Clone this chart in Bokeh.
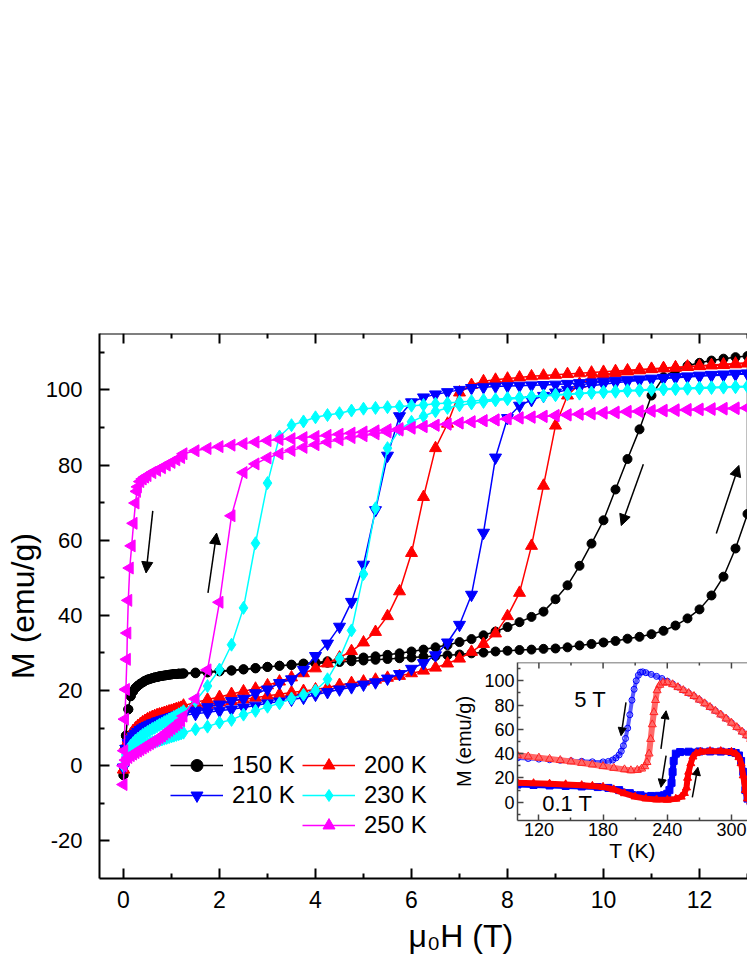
import numpy as np
from bokeh.plotting import figure
from bokeh.models import (Range1d, Legend, LegendItem, Arrow, NormalHead,
                          FixedTicker, GridBox, Label, Title, Span)
from bokeh.embed import file_html
from bokeh.resources import INLINE

FONT = "Liberation Sans"

# ---------------- main panel data: M (emu/g) vs mu0H (T) ----------------
H_LOW = [0.0, 0.05, 0.1, 0.15, 0.2, 0.25, 0.3, 0.35, 0.4, 0.45, 0.5, 0.55, 0.6,
         0.65, 0.7, 0.75, 0.8, 0.85, 0.9, 0.95, 1.0, 1.05, 1.1, 1.15, 1.2]
H_HI = [1.25, 1.5, 1.75, 2.0, 2.25, 2.5, 2.75, 3.0, 3.25, 3.5, 3.75, 4.0, 4.25,
        4.5, 4.75, 5.0, 5.25, 5.5, 5.75, 6.0, 6.25, 6.5, 6.75, 7.0, 7.25, 7.5,
        7.75, 8.0, 8.25, 8.5, 8.75, 9.0, 9.25, 9.5, 9.75, 10.0, 10.25, 10.5,
        10.75, 11.0, 11.25, 11.5, 11.75, 12.0, 12.25, 12.5, 12.75, 13.0]

# 150 K
M150_LOW = [-2.5, 8.0, 15.0, 18.5, 19.8, 20.7, 21.3, 21.8, 22.2, 22.6, 22.9, 23.1,
            23.3, 23.5, 23.6, 23.8, 23.9, 24.0, 24.1, 24.2, 24.3, 24.4, 24.4, 24.5, 24.5]
M150_UP = [24.5, 24.6, 24.8, 25.1, 25.3, 25.6, 25.9, 26.3, 26.6, 26.8, 27.0, 27.2,
           27.4, 27.6, 27.8, 28.0, 28.2, 28.4, 28.6, 28.8, 29.0, 29.2, 29.4, 29.6,
           29.9, 30.1, 30.4, 30.6, 30.8, 30.9, 31.1, 31.2, 31.5, 32.0, 32.4, 32.8,
           33.2, 33.8, 34.3, 35.0, 35.9, 37.3, 39.2, 41.6, 45.3, 50.3, 57.8, 67.0]
M150_DOWN = [109.0, 108.7, 108.3, 107.8, 107.2, 106.4, 105.3, 103.4, 98.5, 89.5,
             81.6, 73.5, 65.3, 59.1, 53.2, 48.0, 44.3, 41.0, 39.6, 38.2, 36.9, 35.7,
             34.7, 33.7, 32.9, 32.1, 31.5, 30.9, 30.4, 29.9, 29.5, 29.1, 28.8, 28.5,
             28.2, 27.8, 27.5, 27.2, 26.9, 26.6, 26.3, 26.0, 25.7, 25.4, 25.2, 25.0,
             24.8, 24.6]
# 200 K
M200_LOW = [-1.0, 5.5, 7.2, 8.3, 9.2, 9.9, 10.5, 11.0, 11.5, 11.9, 12.3, 12.6, 12.9,
            13.2, 13.4, 13.6, 13.8, 14.0, 14.2, 14.4, 14.6, 14.8, 15.0, 15.2, 15.4]
M200_UP = [15.0, 15.6, 16.2, 16.8, 17.2, 17.6, 18.1, 18.6, 19.0, 19.5, 19.9, 20.3,
           20.8, 21.5, 22.0, 22.4, 22.9, 23.4, 23.9, 24.6, 25.3, 26.1, 27.2, 28.5,
           30.3, 32.4, 35.2, 39.8, 46.0, 58.5, 74.5, 90.5, 98.5, 101.6, 103.1, 104.0,
           104.5, 104.9, 105.2, 105.5, 105.7, 105.9, 106.1, 106.3, 106.5, 106.6, 106.8, 107.0]
M200_DOWN = [107.2, 107.0, 106.8, 106.6, 106.4, 106.2, 106.0, 105.8, 105.6, 105.4,
             105.2, 105.0, 104.8, 104.6, 104.4, 104.2, 104.0, 103.8, 103.6, 103.3,
             103.0, 102.7, 102.3, 101.3, 99.3, 91.0, 84.5, 71.5, 56.6, 46.4, 39.8,
             35.6, 32.8, 30.5, 28.8, 27.2, 25.9, 24.6, 23.5, 22.4, 21.4, 20.5, 19.8,
             19.1, 18.3, 17.6, 16.8, 16.0]
# 210 K
M210_LOW = [-0.5, 4.5, 6.0, 7.0, 7.8, 8.5, 9.0, 9.5, 9.9, 10.3, 10.6, 10.9, 11.2,
            11.4, 11.7, 11.9, 12.1, 12.3, 12.5, 12.7, 12.9, 13.1, 13.3, 13.5, 13.6]
M210_UP = [13.4, 13.8, 14.2, 14.6, 15.0, 15.5, 16.0, 16.6, 17.1, 17.6, 18.1, 18.9,
           19.6, 20.3, 20.9, 21.6, 22.2, 23.2, 24.4, 25.8, 27.3, 29.4, 32.8, 37.5,
           45.5, 62.0, 82.0, 92.5, 95.8, 97.3, 98.4, 99.3, 100.0, 100.6, 101.1, 101.5,
           101.9, 102.2, 102.5, 102.8, 103.0, 103.2, 103.4, 103.6, 103.8, 103.9, 104.1, 104.2]
M210_DOWN = [104.4, 104.3, 104.1, 104.0, 103.8, 103.6, 103.4, 103.2, 103.0, 102.8,
             102.6, 102.4, 102.2, 102.0, 101.8, 101.6, 101.4, 101.3, 101.2, 101.1,
             101.0, 100.9, 100.7, 100.5, 100.0, 99.4, 98.8, 98.0, 96.7, 93.0, 82.5,
             68.0, 53.5, 43.6, 37.0, 32.5, 29.2, 25.5, 23.0, 22.0, 20.3, 19.3, 17.8,
             17.2, 16.3, 15.6, 14.7, 14.1]
# 230 K
M230_LOW = [0.0, 2.5, 3.3, 3.8, 4.2, 4.5, 4.8, 5.1, 5.4, 5.6, 5.8, 6.0, 6.2, 6.4,
            6.6, 6.8, 7.0, 7.2, 7.4, 7.6, 7.8, 8.0, 8.2, 8.4, 8.6]
M230_UP = [8.8, 9.7, 10.4, 11.5, 12.2, 13.6, 14.6, 15.7, 16.6, 17.9, 18.9, 20.0,
           23.0, 28.5, 36.0, 51.0, 68.5, 84.5, 89.5, 91.5, 93.0, 94.3, 95.2, 95.9,
           96.4, 96.8, 97.2, 97.5, 97.8, 98.1, 98.4, 98.6, 98.8, 99.0, 99.2, 99.4,
           99.5, 99.7, 99.8, 100.0, 100.1, 100.2, 100.3, 100.4, 100.5, 100.6, 100.7, 100.8]
M230_DOWN = [101.0, 100.9, 100.8, 100.7, 100.6, 100.5, 100.4, 100.3, 100.2, 100.0,
             99.9, 99.7, 99.5, 99.3, 99.1, 98.9, 98.7, 98.5, 98.3, 98.0, 97.8, 97.5,
             97.3, 97.0, 96.8, 96.5, 96.3, 96.0, 95.8, 95.6, 95.4, 95.2, 95.0, 94.5,
             93.8, 93.3, 92.7, 91.6, 90.6, 87.6, 75.2, 59.2, 42.0, 32.2, 25.6, 21.2,
             17.2, 14.5]
M230_LOW_DOWN = [14.0, 13.7, 13.3, 13.0, 12.6, 12.3, 11.9, 11.6, 11.2, 10.9, 10.5,
                 10.1, 9.8, 9.4, 9.0, 8.6, 8.2, 7.7, 7.2, 6.7, 6.0, 5.3, 4.3, 3.0, 0.0]
# 250 K
M250_LOW = [0.0, 1.5, 2.2, 2.7, 3.1, 3.5, 3.9, 4.3, 4.7, 5.1, 5.5, 5.9, 6.3, 6.7,
            7.1, 7.5, 7.9, 8.4, 8.9, 9.4, 9.9, 10.4, 10.9, 11.4, 12.0]
M250_UP = [13.2, 17.8, 25.5, 43.5, 66.5, 78.0, 80.3, 81.9, 83.0, 83.9, 84.7, 85.4,
           86.1, 86.7, 87.3, 87.8, 88.3, 88.8, 89.3, 89.8, 90.2, 90.6, 90.9, 91.2,
           91.5, 91.8, 92.0, 92.3, 92.5, 92.7, 92.9, 93.1, 93.3, 93.5, 93.6, 93.8,
           93.9, 94.1, 94.2, 94.3, 94.4, 94.5, 94.6, 94.7, 94.8, 94.9, 95.0, 95.1]
M250_DOWN = [95.3, 95.2, 95.1, 95.0, 94.9, 94.8, 94.7, 94.6, 94.5, 94.4, 94.3, 94.1,
             94.0, 93.8, 93.6, 93.4, 93.2, 93.0, 92.8, 92.6, 92.3, 92.0, 91.8, 91.5,
             91.2, 90.9, 90.6, 90.3, 90.0, 89.7, 89.4, 89.1, 88.8, 88.5, 88.2, 87.9,
             87.6, 87.3, 87.0, 86.8, 86.5, 86.1, 85.7, 85.3, 84.9, 84.4, 83.8, 83.0]
H250_LOW_DOWN = [1.2, 1.1, 1.0, 0.9, 0.8, 0.7, 0.6, 0.5, 0.45, 0.4, 0.35, 0.3, 0.28,
                 0.25, 0.21, 0.17, 0.13, 0.1, 0.08, 0.07, 0.05, 0.03, 0.015, 0.0]
M250_LOW_DOWN = [82.0, 81.4, 80.7, 80.0, 79.3, 78.6, 78.0, 77.2, 76.8, 76.3, 75.6,
                 74.2, 73.0, 69.9, 64.5, 58.5, 52.6, 44.0, 35.3, 28.3, 20.3, 12.4, 4.0, -5.0]

LABELS = ["150 K", "200 K", "210 K", "230 K", "250 K"]
COLORS = ["black", "#ff0000", "#0000ff", "#00ffff", "#ff00ff"]

X_TICKS = [0, 2, 4, 6, 8, 10, 12]
X_MINOR = [1, 3, 5, 7, 9, 11, 13]
Y_TICKS = [-20, 0, 20, 40, 60, 80, 100]
Y_MINOR = [-10, 10, 30, 50, 70, 90, 110]

# arrows in the main panel (x0, y0, x1, y1) in data units
ARROWS_MAIN = [(0.61, 67.8, 0.47, 51.3), (1.76, 46.0, 1.94, 61.9),
               (10.83, 80.2, 10.37, 63.9), (12.35, 61.8, 12.82, 79.9)]

# ---------------- inset data: M vs T ----------------
T5_COOL = [318, 314, 310, 305, 300, 295, 290, 285, 280, 275, 270, 265, 260, 255, 250,
           245, 240, 235, 230, 225, 220, 217, 215, 213, 211, 209, 207, 205, 203, 201,
           199, 197, 195, 192, 189, 185, 180, 170, 160, 150, 140, 130, 120, 110, 100]
M5_COOL = [52.0, 55.0, 58.0, 61.7, 65.3, 68.8, 72.1, 75.2, 78.3, 81.3, 84.3, 87.3,
           89.8, 92.3, 94.8, 97.3, 99.6, 101.8, 103.6, 105.2, 106.6, 107.3, 107.0,
           104.5, 100.0, 93.0, 84.0, 72.0, 61.0, 52.5, 46.5, 42.0, 39.0, 36.5, 34.8,
           33.6, 33.2, 33.3, 33.7, 34.1, 34.5, 35.0, 35.5, 36.0, 36.5]
T5_WARM = [100, 110, 120, 130, 140, 150, 160, 170, 180, 190, 200, 206, 212, 216, 219,
           221, 223, 224.5, 226, 227.5, 229, 230.5, 233, 236, 240, 245, 250, 255, 260,
           265, 270, 275, 280, 285, 290, 295, 300, 305, 310, 314, 318]
M5_WARM = [38.6, 37.6, 36.6, 35.6, 34.6, 33.5, 32.3, 31.0, 29.6, 28.2, 27.0, 26.2,
           26.5, 27.6, 29.5, 33.0, 40.0, 52.0, 64.0, 74.0, 84.0, 92.0, 96.5, 98.4,
           98.6, 97.0, 94.6, 92.2, 89.8, 87.3, 84.3, 81.3, 78.3, 75.2, 72.1, 68.8,
           65.3, 61.7, 58.0, 55.0, 52.0]
T01_COOL = [318, 315, 313, 311, 309, 307, 304, 300, 290, 280, 270, 260, 252, 248, 246,
            245, 244, 242, 240, 237, 232, 225, 215, 205, 195, 185, 175, 160, 145, 130,
            115, 100]
M01_COOL = [0.5, 3.0, 10.0, 25.0, 34.0, 38.5, 40.5, 41.3, 41.7, 41.8, 41.8, 41.6,
            41.3, 40.0, 34.0, 25.0, 16.0, 10.0, 7.0, 5.8, 5.3, 5.2, 5.8, 7.5, 10.0,
            11.8, 12.5, 13.0, 13.4, 13.8, 14.2, 14.6]
T01_WARM = [100, 115, 130, 145, 160, 170, 180, 190, 200, 210, 220, 230, 240, 248, 253,
            256, 258, 259, 260, 262, 264, 267, 271, 280, 290, 300, 304, 307, 309, 311,
            313, 315, 318]
M01_WARM = [16.0, 15.6, 15.2, 14.7, 14.0, 13.4, 12.6, 10.5, 7.3, 4.6, 3.0, 2.2, 2.0,
            2.8, 4.5, 7.5, 12.0, 20.0, 25.0, 32.0, 37.5, 40.3, 41.5, 42.0, 42.0, 41.4,
            40.0, 37.0, 32.0, 22.0, 10.0, 3.0, 0.5]
IX_TICKS = [120, 180, 240, 300]
IX_MINOR = [150, 210, 270]
IY_TICKS = [0, 20, 40, 60, 80, 100]
IY_MINOR = [-10, 10, 30, 50, 70, 90, 110]
ARROWS_INSET = [(201.4, 82.2, 196.8, 54.8), (234.1, 43.9, 238.9, 75.3),
                (238.9, 38.4, 234.1, 12.3), (263.4, 4.1, 268.6, 28.8)]


def style_axis(ax, font_size, tick_in, minor_in, lw, color="black"):
    ax.axis_line_width = lw
    ax.axis_line_color = color
    ax.major_tick_line_width = lw
    ax.minor_tick_line_width = lw
    ax.major_tick_line_color = color
    ax.minor_tick_line_color = color
    ax.major_tick_in = tick_in
    ax.major_tick_out = 0
    ax.minor_tick_in = minor_in
    ax.minor_tick_out = 0
    ax.major_label_text_font = FONT
    ax.major_label_text_font_size = font_size
    ax.major_label_text_color = "black"
    ax.axis_label_text_font = FONT
    ax.axis_label_text_font_style = "normal"
    ax.axis_label_text_color = "black"


def top_frame(fig, ticks, minor, ytop, px_per_unit, major_len, minor_len, lw, color):
    """Top frame line with inward ticks (no labels)."""
    fig.add_layout(Span(location=ytop, dimension="width", line_color=color, line_width=lw))
    fig.segment(x0=ticks, y0=[ytop] * len(ticks), x1=ticks,
                y1=[ytop - major_len / px_per_unit] * len(ticks),
                line_color=color, line_width=lw)
    fig.segment(x0=minor, y0=[ytop] * len(minor), x1=minor,
                y1=[ytop - minor_len / px_per_unit] * len(minor),
                line_color=color, line_width=lw)


# ---------------- main figure ----------------
W, HGT = 747, 967
BL, BR, BT, BB = 99, 0, 333, 89
YLO, YHI = -30, 115
p = figure(width=W, height=HGT, x_range=Range1d(-0.5, 13.0),
           y_range=Range1d(YLO, YHI), output_backend="svg", toolbar_location=None,
           min_border_left=BL, min_border_right=BR, min_border_top=BT,
           min_border_bottom=BB)
p.title.visible = False
p.outline_line_color = None
p.grid.visible = False
p.background_fill_color = "white"
p.border_fill_color = "white"

p.xaxis.ticker = FixedTicker(ticks=X_TICKS, minor_ticks=X_MINOR)
p.yaxis.ticker = FixedTicker(ticks=Y_TICKS, minor_ticks=Y_MINOR)
style_axis(p.xaxis[0], "23px", 10, 5, 2)
style_axis(p.yaxis[0], "22px", 10, 5, 2)
p.yaxis.major_label_overrides = {-20: "-20"}
p.xaxis.major_label_standoff = 12
p.yaxis.major_label_standoff = 17
p.yaxis.axis_label = "M (emu/g)"
p.yaxis.axis_label_text_font_size = "32px"
p.yaxis.axis_label_standoff = 2

ppu_main = (HGT - BT - BB) / (YHI - YLO)
top_frame(p, X_TICKS, X_MINOR, YHI, ppu_main, 10, 5, 2, "black")

p.add_layout(Title(text="μ₀H (T)", align="left", offset=309, standoff=10,
                   text_font=FONT, text_font_size="32px", text_font_style="normal",
                   text_color="black"), "below")

series = [
    (M150_LOW, M150_UP, M150_DOWN, list(reversed(H_LOW)), list(reversed(M150_LOW)), "circle", 9, 0.0),
    (M200_LOW, M200_UP, M200_DOWN, list(reversed(H_LOW)), list(reversed(M200_LOW)), "triangle", 12, 0.0),
    (M210_LOW, M210_UP, M210_DOWN, list(reversed(H_LOW)), list(reversed(M210_LOW)), "inverted_triangle", 12, 0.0),
    (M230_LOW, M230_UP, M230_DOWN, list(reversed(H_LOW)), M230_LOW_DOWN, "diamond", 13, 0.0),
    (M250_LOW, M250_UP, M250_DOWN, H250_LOW_DOWN, M250_LOW_DOWN, "triangle", 12, np.pi / 2),
]
renderers = []
for (mlow, mup, mdown, hld, mld, marker, size, ang), color in zip(series, COLORS):
    xs = H_LOW + H_HI + list(reversed(H_HI)) + hld
    ys = mlow + mup + mdown + mld
    lr = p.line(xs, ys, line_color=color, line_width=1.5)
    sr = p.scatter(xs, ys, marker=marker, size=size, angle=ang, fill_color=color,
                   line_color=color, line_width=1)
    renderers.append((lr, sr))

for (x0, y0, x1, y1) in ARROWS_MAIN:
    p.add_layout(Arrow(end=NormalHead(size=11, fill_color="black", line_color="black",
                                      line_width=1),
                       x_start=x0, y_start=y0, x_end=x1, y_end=y1,
                       line_color="black", line_width=1.5))


def make_legend(idx, loc):
    leg = Legend(items=[LegendItem(label=LABELS[i], renderers=list(renderers[i]))
                        for i in idx], location=loc)
    leg.background_fill_alpha = 0
    leg.border_line_alpha = 0
    leg.padding = 0
    leg.margin = 0
    leg.spacing = 0
    leg.glyph_width = 53
    leg.glyph_height = 30
    leg.label_height = 30
    leg.label_standoff = 9
    leg.label_text_font = FONT
    leg.label_text_font_size = "24px"
    leg.label_text_color = "black"
    return leg


p.add_layout(make_legend([0, 2], (71, 68)))
p.add_layout(make_legend([1, 3, 4], (203, 38)))

# ---------------- inset figure ----------------
IW, IH = 297, 210
IBL, IBT, IBB = 62, 4, 48
IYLO, IYHI = -15, 115
ins = figure(width=IW, height=IH, x_range=Range1d(100, 315.0), y_range=Range1d(IYLO, IYHI),
             output_backend="svg", toolbar_location=None, min_border_left=IBL,
             min_border_right=0, min_border_top=IBT, min_border_bottom=IBB)
ins.title.visible = False
ins.outline_line_color = None
ins.grid.visible = False
ins.background_fill_color = "white"
ins.border_fill_color = None
ins.xaxis.ticker = FixedTicker(ticks=IX_TICKS, minor_ticks=IX_MINOR)
ins.yaxis.ticker = FixedTicker(ticks=IY_TICKS, minor_ticks=IY_MINOR)
style_axis(ins.xaxis[0], "18px", 6, 3, 1.5, "#444444")
style_axis(ins.yaxis[0], "18px", 6, 3, 1.5, "#444444")
ins.xaxis.major_label_standoff = 2
ins.yaxis.major_label_standoff = 3
ins.xaxis.axis_label = "T (K)"
ins.yaxis.axis_label = "M (emu/g)"
ins.xaxis.axis_label_text_font_size = "21px"
ins.yaxis.axis_label_text_font_size = "20px"
ins.xaxis.axis_label_standoff = 0
ins.yaxis.axis_label_standoff = 6
ppu_ins = (IH - IBT - IBB) / (IYHI - IYLO)
top_frame(ins, IX_TICKS, IX_MINOR, IYHI, ppu_ins, 6, 3, 1.5, "#444444")

ins.line(T01_COOL, M01_COOL, line_color="#0000ff", line_width=6)
ins.scatter(T01_COOL, M01_COOL, marker="square", size=7, fill_color="#0000ff",
            line_color="#0000ff")
ins.line(T01_WARM, M01_WARM, line_color="#ff0000", line_width=6)
ins.scatter(T01_WARM, M01_WARM, marker="triangle", size=8, fill_color="#ff0000",
            line_color="#ff0000")
ins.line(T5_COOL, M5_COOL, line_color="#5a5aff", line_width=4)
ins.scatter(T5_COOL, M5_COOL, marker="circle", size=6, fill_color=None,
            line_color="#0000ff", line_width=1)
ins.line(T5_WARM, M5_WARM, line_color="#ff6a6a", line_width=6)
ins.scatter(T5_WARM, M5_WARM, marker="triangle", size=8, fill_color=None,
            line_color="#ff2020", line_width=1)

for (x0, y0, x1, y1) in ARROWS_INSET:
    ins.add_layout(Arrow(end=NormalHead(size=8, fill_color="black", line_color="black",
                                        line_width=1),
                         x_start=x0, y_start=y0, x_end=x1, y_end=y1,
                         line_color="black", line_width=1.5))
ins.add_layout(Label(x=168, y=84.4, text="5 T", text_font=FONT, text_font_size="22px",
                     text_align="center", text_baseline="middle", text_color="black"))
ins.add_layout(Label(x=146.5, y=-0.7, text="0.1 T", text_font=FONT, text_font_size="22px",
                     text_align="center", text_baseline="middle", text_color="black"))

layout = GridBox(children=[(p, 0, 0, 3, 2), (ins, 1, 1, 1, 1)],
                 rows=["658px", "210px", "99px"], cols=["450px", "297px"])

open("out.html", "w").write(file_html(layout, INLINE))
